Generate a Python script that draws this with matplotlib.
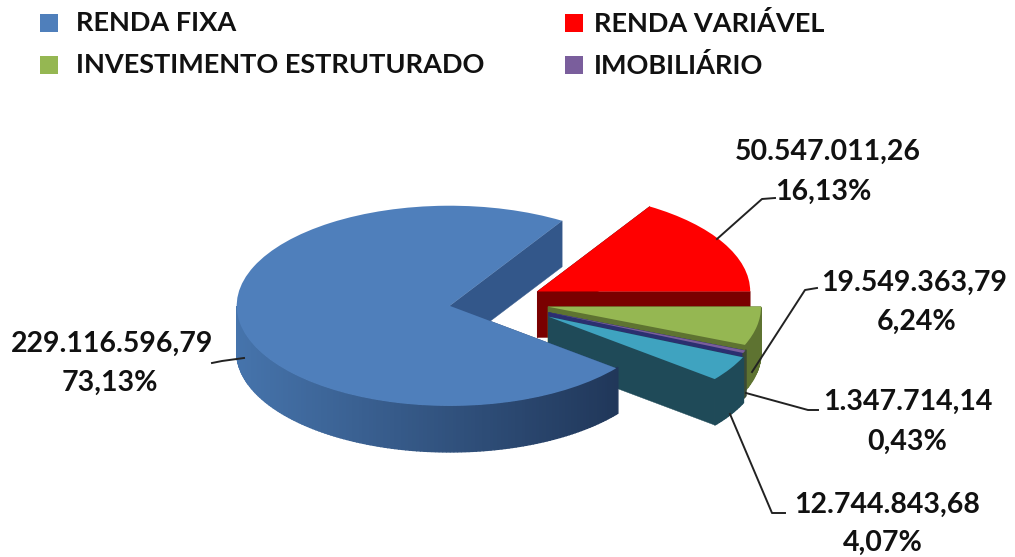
import numpy as np
import matplotlib
matplotlib.use('Agg')
import matplotlib.pyplot as plt
from matplotlib.colors import to_rgb

plt.rcParams['font.family'] = ['Lato', 'DejaVu Sans']

# dados do gráfico
valores = [229116596.79, 50547011.26, 19549363.79, 1347714.14, 12744843.68]
rotulos_valor = ['229.116.596,79', '50.547.011,26', '19.549.363,79', '1.347.714,14', '12.744.843,68']
rotulos_pct = ['73,13%', '16,13%', '6,24%', '0,43%', '4,07%']
legenda = ['RENDA FIXA', 'RENDA VARIÁVEL', 'INVESTIMENTO ESTRUTURADO', 'IMOBILIÁRIO']

cores = ['#4F7FBB', '#FF0000', '#95B752', '#7A5E9C', '#3FA3C0']
cores_corte = ['#33578A', '#7A0000', '#5E7331', '#2B2F70', '#1F4A58']
cores_aro = ['#33578A', '#7A0000', '#5E7331', '#3C4A35', '#1F4A58']

# geometria em pixels da figura
W, H = 1015, 557
achat = 0.47
altura = 46
cx, cy = 497, 302
raio = 213
afast = [48, 46, 52, 56, 60]  # o explode do pie não escala com o raio

fig = plt.figure(figsize=(W / 100, H / 100), dpi=100)
ax = fig.add_axes([0, 0, 1, 1])

wedges, _ = ax.pie(valores, colors=cores, startangle=-38.6, counterclock=False,
                   explode=afast, radius=raio, center=(cx, (H - cy) / achat),
                   wedgeprops={'linewidth': 0})
ax.set_aspect('auto')
ax.set_xlim(0, W)
ax.set_ylim(0, H / achat)
prof = altura / achat


def mistura(c1, c2, t):
    return tuple(a + (b - a) * t for a, b in zip(to_rgb(c1), to_rgb(c2)))


# fatias de trás para a frente, azul por último
ordem = [1, 2, 3, 4, 0]
for n, i in enumerate(ordem):
    w = wedges[i]
    x0, y0 = w.center
    z = 2 + n * 3
    # paredes dos cortes
    for ang in [w.theta1, w.theta2]:
        xe = x0 + w.r * np.cos(np.radians(ang))
        ye = y0 + w.r * np.sin(np.radians(ang))
        ax.fill([x0, xe, xe, x0], [y0, ye, ye - prof, y0 - prof],
                color=cores_corte[i], lw=0.3, zorder=z)
    # parede externa
    angs = np.arange(w.theta1, w.theta2 + 1.0, 1.0)
    for a, b in zip(angs[:-1], angs[1:]):
        if np.sin(np.radians((a + b) / 2)) > 0:
            continue
        xa, xb = x0 + w.r * np.cos(np.radians([a, b]))
        ya, yb = y0 + w.r * np.sin(np.radians([a, b]))
        if i == 0:
            t = (np.cos(np.radians((a + b) / 2)) + 1) / 2
            cor = mistura('#4674AC', '#1C3050', t)
        else:
            cor = cores_aro[i]
        ax.fill([xa, xb, xb, xa], [ya, yb, yb - prof, ya - prof],
                color=cor, lw=1.0, zorder=z + 1)
    w.set_zorder(z + 2)

# camada de textos, em pixels
ov = fig.add_axes([0, 0, 1, 1], facecolor='none')
ov.set_xlim(0, W)
ov.set_ylim(H, 0)
ov.axis('off')

leg_x = [40, 565, 40, 565]
leg_y = [23, 23, 65, 65]
leg_txt = [76, 594, 76, 594]
for k in range(4):
    ov.fill([leg_x[k], leg_x[k] + 18, leg_x[k] + 18, leg_x[k]],
            [leg_y[k] - 9, leg_y[k] - 9, leg_y[k] + 9, leg_y[k] + 9],
            color=cores[k], lw=0)
    ov.text(leg_txt[k], leg_y[k], legenda[k], fontsize=19.5, fontweight='bold',
            color='#111111', ha='left', va='center')

pos_valor = [(112, 344), (828, 152), (914, 283), (908, 402), (887, 505)]
pos_pct = [(110, 383), (823, 192), (917, 322), (907, 442), (883, 543)]
guias = [
    [(244, 358), (222, 361), (212, 363)],
    [(717, 239), (762, 199), (775, 198)],
    [(752, 372), (805, 290), (817, 288)],
    [(746, 393), (808, 410), (818, 410)],
    [(730, 414), (772, 513), (785, 513)],
]
for i in range(5):
    ov.text(*pos_valor[i], rotulos_valor[i], fontsize=20.5, fontweight='bold',
            color='#111111', ha='center', va='center')
    ov.text(*pos_pct[i], rotulos_pct[i], fontsize=20.5, fontweight='bold',
            color='#111111', ha='center', va='center')
    xs, ys = zip(*guias[i])
    ov.plot(xs, ys, color='#222222', lw=1.4)

fig.savefig('out.png', dpi=100)
